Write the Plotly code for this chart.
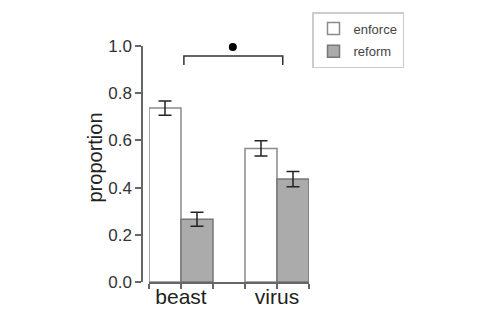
import plotly.graph_objects as go

categories = ["beast", "virus"]
series_names = ["enforce", "reform"]
enforce_vals = [0.737, 0.566]
enforce_err = [0.030, 0.032]
reform_vals = [0.266, 0.436]
reform_err = [0.030, 0.032]
y_ticks = [0.0, 0.2, 0.4, 0.6, 0.8, 1.0]

W, H = 480, 320
idx = list(range(len(categories)))
bw = 1 / 3

fig = go.Figure()
fig.add_trace(go.Bar(
    x=idx, y=enforce_vals, name=series_names[0], width=bw, offset=-bw,
    marker=dict(color="white", line=dict(color="#8a8a8a", width=1.5)),
    error_y=dict(type="data", array=enforce_err, color="#222", thickness=1.5, width=6.5),
    legendgroup="a",
))
fig.add_trace(go.Bar(
    x=idx, y=reform_vals, name=series_names[1], width=bw, offset=0,
    marker=dict(color="#ababab", line=dict(color="#777", width=1.5)),
    error_y=dict(type="data", array=reform_err, color="#222", thickness=1.5, width=6.5),
    legendgroup="b",
))
# invisible trace creating the overlay axis that carries the category labels
fig.add_trace(go.Scatter(x=[None], y=[None], xaxis="x2", showlegend=False, hoverinfo="skip"))
# significance marker
fig.add_trace(go.Scatter(x=[0.54], y=[0.996], mode="markers", showlegend=False,
                         marker=dict(color="black", size=8), cliponaxis=False, hoverinfo="skip"))

# ticks at every bar edge
edge_ticks = sorted({round(i + e, 6) for i in idx for e in (-bw, 0.0, bw)})

xr = [-bw, len(categories) - 1 + bw]
dom = [149 / W, 309 / W]
fig.update_layout(
    width=W, height=H, margin=dict(l=0, r=0, t=0, b=0, autoexpand=False),
    paper_bgcolor="white", plot_bgcolor="white",
    font=dict(family="Liberation Sans, Arial, sans-serif", color="#333"),
    barmode="overlay",
    xaxis=dict(domain=dom, range=xr, tickvals=edge_ticks, showticklabels=False,
               ticks="outside", ticklen=5, tickwidth=1.5, tickcolor="#666",
               showline=True, linecolor="#666", linewidth=1.5, showgrid=False, zeroline=False,
               automargin=False),
    xaxis2=dict(domain=dom, range=xr, overlaying="x", anchor="y", side="bottom",
                tickvals=idx, ticktext=categories, ticks="", showline=False, showgrid=False,
                zeroline=False, tickfont=dict(size=21, color="#222"), automargin=False),
    yaxis=dict(domain=[(H - 282) / H, (H - 46) / H], range=[0, 1], anchor="free", position=142 / W,
               tickvals=y_ticks, tickformat=".1f", ticks="outside", ticklen=6, tickwidth=1.5,
               tickcolor="#666", showline=True, linecolor="#666", linewidth=1.5,
               showgrid=False, zeroline=False, tickfont=dict(size=17, color="#333"),
               automargin=False),
    legend=dict(x=312 / W, y=1 - 12 / H, xanchor="left", yanchor="top",
                bordercolor="#cccccc", borderwidth=1.5, bgcolor="white",
                font=dict(size=13, color="#444"), tracegroupgap=3, traceorder="grouped"),
    shapes=[dict(type="path", xref="x", yref="y",
                 path="M 0.03 0.92 L 0.03 0.958 L 1.06 0.958 L 1.06 0.92",
                 line=dict(color="#333", width=1.5))],
    annotations=[dict(text="proportion", x=81.5 / W, y=1 - 158 / H, xref="paper", yref="paper",
                      textangle=-90, showarrow=False, font=dict(size=20, color="#222"))],
)
fig.write_html("out.html")
